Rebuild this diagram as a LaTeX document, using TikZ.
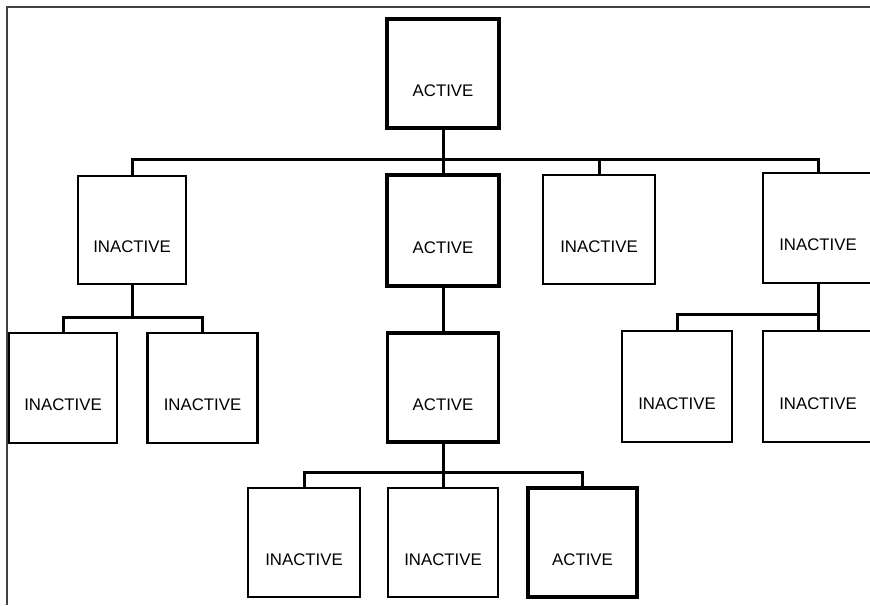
\documentclass[tikz,border=0pt]{standalone}
\usepackage{fontspec}
\setmainfont{Liberation Sans}
\begin{document}
\begin{tikzpicture}[x=1pt,y=1pt,
  box/.style={draw=black,fill=white,rectangle,minimum width=110pt,minimum height=109pt,inner sep=0pt},
  inact/.style={box,line width=2.3pt},
  act/.style={box,line width=3.3pt},
  lbl/.style={label={[font=\fontsize{16.8}{16.8}\selectfont,yshift=-17pt]center:#1}},
  conn/.style={draw=black,line width=3pt},
  border/.style={draw=black!75,line width=1.4pt}]
\useasboundingbox (0,0) rectangle (870,-605);
\clip (0,0) rectangle (870,-605);
\draw[border] (7,-605) -- (7,-7) -- (870,-7);
% top level
\node[act,lbl=ACTIVE,minimum width=112pt] (root) at (443,-73.5) {};
\node[inact,lbl=INACTIVE,minimum width=108pt,minimum height=108pt] (A) at (132,-230) {};
\node[act,lbl=ACTIVE,minimum width=112pt,minimum height=111pt] (B) at (443,-230.5) {};
\node[inact,lbl=INACTIVE,minimum width=112pt] (C) at (599,-229.5) {};
\node[inact,lbl=INACTIVE,minimum height=110pt] (D) at (818,-228) {};
% second level
\node[inact,lbl=INACTIVE,minimum width=108pt,minimum height=110pt] (A1) at (63,-388) {};
\node[inact,lbl=INACTIVE,minimum height=110pt] (A2) at (202.5,-388) {};
\node[act,lbl=ACTIVE,minimum width=111pt] (B1) at (443,-387.5) {};
\node[inact,lbl=INACTIVE,minimum height=111pt] (D1) at (677,-386.5) {};
\node[inact,lbl=INACTIVE,minimum height=111pt] (D2) at (818,-386.5) {};
% third level
\node[inact,lbl=INACTIVE,minimum width=112pt] (B1a) at (304,-542.5) {};
\node[inact,lbl=INACTIVE] (B1b) at (443,-542.5) {};
\node[act,lbl=ACTIVE,minimum width=109pt] (B1c) at (582.5,-542.5) {};
% bus coordinates
\coordinate (bus1) at (443,-159);
\coordinate (bus2) at (132,-317);
\coordinate (bus3) at (818,-314);
\coordinate (bus4) at (443,-472);
% connectors
\draw[conn] (root.south) -- (B.north);
\draw[conn] (A.north) -- (A.north |- bus1) -| (D.north);
\draw[conn] (C.north) -- (C.north |- bus1);
\draw[conn] (A.south) -- (bus2);
\draw[conn] (A1.north) -- (A1.north |- bus2) -| (A2.north);
\draw[conn] (B.south) -- (B1.north);
\draw[conn] (B1.south) -- (B1b.north);
\draw[conn] (B1a.north) -- (B1a.north |- bus4) -| (B1c.north);
\draw[conn] (D.south) -- (D2.north);
\draw[conn] (D1.north) -- (D1.north |- bus3) -- (bus3);
\end{tikzpicture}
\end{document}
